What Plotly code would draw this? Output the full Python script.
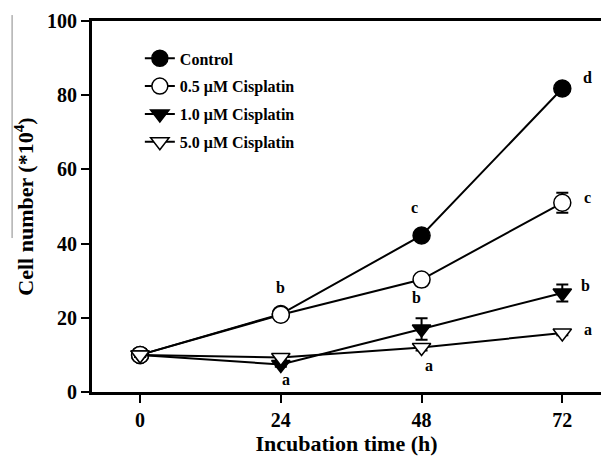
import plotly.graph_objects as go

# Incubation time points (h)
hours = [0, 24, 48, 72]

# Cell counts (*10^4) and standard errors per treatment
control = [10, 21, 42.2, 81.8]
control_err = [0.6, 0.8, 1.2, 1.5]
cis_05 = [10, 20.8, 30.3, 51.0]
cis_05_err = [0.5, 0.8, 1.0, 2.7]
cis_10 = [10, 7.4, 17.0, 26.7]
cis_10_err = [0.5, 0.6, 2.9, 2.3]
cis_50 = [10, 9.3, 12.0, 15.9]
cis_50_err = [0.5, 0.5, 0.8, 0.6]

series_names = ["Control", "0.5 \u03bcM Cisplatin", "1.0 \u03bcM Cisplatin", "5.0 \u03bcM Cisplatin"]

# Significance letters: (series index, time point index, letter)
sig_letters = [
    (0, 1, "b"), (0, 2, "c"), (0, 3, "d"),
    (1, 2, "b"), (1, 3, "c"),
    (2, 1, "a"), (2, 3, "b"),
    (3, 2, "a"), (3, 3, "a"),
]

values = [control, cis_05, cis_10, cis_50]
errors = [control_err, cis_05_err, cis_10_err, cis_50_err]
symbols = ["circle", "circle", "triangle-down", "triangle-down"]
fills = ["black", "white", "black", "white"]
sizes = [17, 17, 16, 16]

FONT = "Liberation Serif, Times New Roman, serif"

fig = go.Figure()
for i, (name, ys, err, sym, fill, sz) in enumerate(zip(series_names, values, errors, symbols, fills, sizes)):
    fig.add_trace(go.Scatter(
        x=hours, y=ys, name=name, mode="lines+markers", legendgroup=f"g{i}",
        line=dict(color="black", width=2),
        marker=dict(symbol=sym, size=sz, color=fill, line=dict(color="black", width=1.5)),
        error_y=dict(type="data", array=err, visible=True, color="black", thickness=2, width=6),
    ))

# pixel offsets of each letter relative to its point
letter_offsets = {
    (0, 1): (0, 27), (0, 2): (-7, 28), (0, 3): (25, 11),
    (1, 2): (-5, -18), (1, 3): (25, 5),
    (2, 1): (5, -15), (2, 3): (23, 7),
    (3, 2): (7, -18), (3, 3): (26, 4),
}
for si, ti, letter in sig_letters:
    dx, dy = letter_offsets[(si, ti)]
    fig.add_annotation(
        x=hours[ti], y=values[si][ti], text=letter, showarrow=False,
        xshift=dx, yshift=dy,
        font=dict(family=FONT, size=16, color="black", weight="bold"),
    )

# thin vertical rule at the far left
fig.add_shape(type="line", xref="paper", yref="paper",
              x0=-0.157, x1=-0.157, y0=0.415, y1=1.016,
              line=dict(color="#888888", width=1))

fig.update_layout(
    width=601, height=464,
    margin=dict(l=92, r=0, t=21, b=72),
    paper_bgcolor="white", plot_bgcolor="white",
    font=dict(family=FONT, color="black", weight="bold"),
    showlegend=True,
    legend=dict(
        x=0.094, y=0.945, xanchor="left", yanchor="top",
        bgcolor="rgba(0,0,0,0)", font=dict(size=16, family=FONT, weight="bold"),
        itemsizing="trace", tracegroupgap=4,
    ),
    xaxis=dict(
        range=[-8.2, 78.6], tickvals=hours, ticktext=[str(h) for h in hours],
        showgrid=False, zeroline=False,
        showline=True, linecolor="black", linewidth=3, mirror=True,
        ticks="outside", ticklen=8, tickwidth=2, tickcolor="black",
        tickfont=dict(size=20, family=FONT, weight="bold"),
        title=dict(text="Incubation time (h)", standoff=6,
                   font=dict(size=22, family=FONT, weight="bold")),
    ),
    yaxis=dict(
        range=[0, 100], tickvals=[0, 20, 40, 60, 80, 100],
        showgrid=False, zeroline=False,
        showline=True, linecolor="black", linewidth=3,
        ticks="outside", ticklen=8, tickwidth=2, tickcolor="black",
        tickfont=dict(size=20, family=FONT, weight="bold"),
        title=dict(text="Cell number (*10<sup>4</sup>)", standoff=8,
                   font=dict(size=22, family=FONT, weight="bold")),
    ),
)

fig.write_html("out.html")
